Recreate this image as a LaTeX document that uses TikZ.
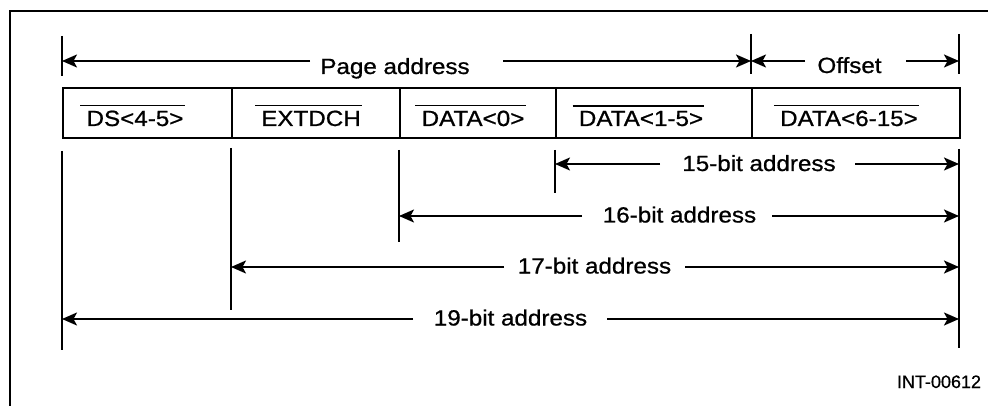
\documentclass[tikz,border=0pt]{standalone}
\usepackage{fontspec}
\setmainfont{Liberation Sans}[FakeStretch=1.1,FakeBold=0.8]
\newfontfamily\intfont{Liberation Sans}[FakeBold=0.6]
\usetikzlibrary{arrows.meta}
\tikzset{
  ln/.style={line width=2pt, line cap=butt},
  arr/.style={ln, -{Stealth[length=15pt,width=13pt,inset=3.5pt]}},
  cell/.style={draw, line width=2pt, minimum height=50pt, inner sep=0pt, anchor=north west},
  lbl/.style={anchor=base, inner sep=0pt, font=\fontsize{22}{26}\selectfont},
  sig/.style={lbl},
  bar/.style={line width=1.8pt},
}
\begin{document}
\begin{tikzpicture}[x=1pt,y=-1pt]
\clip (0,0) rectangle (988,406);
\fill[white] (0,0) rectangle (988,406);
% frame
\draw[line width=2pt] (10,420) -- (10,11) -- (1000,11);

% tick coordinates
\coordinate (tA1) at (62,36);  \coordinate (tA2) at (62,76);
\coordinate (tB1) at (751,34); \coordinate (tB2) at (751,74);
\coordinate (tC1) at (959,34); \coordinate (tC2) at (959,74);
\draw[ln] (tA1) -- (tA2);
\draw[ln] (tB1) -- (tB2);
\draw[ln] (tC1) -- (tC2);

% table cells
\node[cell, minimum width=169pt] (c1) at (62,87) {};
\node[cell, minimum width=168pt] (c2) at (231,87) {};
\node[cell, minimum width=156pt] (c3) at (399,87) {};
\node[cell, minimum width=196pt] (c4) at (555,87) {};
\node[cell, minimum width=208pt] (c5) at (751,87) {};

% signal names with overbars
\node[sig] (s1) at (135,126) {DS<4-5>};
\node[sig] (s2) at (311,126) {EXTDCH};
\node[sig] (s3) at (473,126) {DATA<0>};
\node[sig] (s4) at (641,126) {DATA<1-5>};
\node[sig] (s5) at (849,126) {DATA<6-15>};
\foreach \n in {s1,s2,s3,s4,s5}{
  \draw[bar] ([shift={(-6pt,5pt)}]\n.north west) -- ([shift={(1pt,5pt)}]\n.north east);
}

% vertical extension lines
\coordinate (v1a) at (62,151);  \coordinate (v1b) at (62,350);
\coordinate (v2a) at (231,148); \coordinate (v2b) at (231,310);
\coordinate (v3a) at (399,150); \coordinate (v3b) at (399,242);
\coordinate (v4a) at (555,150); \coordinate (v4b) at (555,193);
\coordinate (v5a) at (959,149); \coordinate (v5b) at (959,348);
\draw[ln] (v1a) -- (v1b);
\draw[ln] (v2a) -- (v2b);
\draw[ln] (v3a) -- (v3b);
\draw[ln] (v4a) -- (v4b);
\draw[ln] (v5a) -- (v5b);

% top dimension: Page address
\node[lbl] (pa) at (395,74) {Page address};
\coordinate (paL) at (310,61); \coordinate (paR) at (503,61);
\draw[arr] (paL) -- (tA1 |- paL);
\draw[arr] (paR) -- (tB1 |- paR);

% Offset
\node[lbl] (of) at (849.5,73) {Offset};
\coordinate (ofL) at (805,61); \coordinate (ofR) at (906,61);
\draw[arr] (ofL) -- (tB1 |- ofL);
\draw[arr] (ofR) -- (tC1 |- ofR);

% 15-bit
\node[lbl] (a15) at (759,171) {15-bit address};
\coordinate (a15L) at (660,164); \coordinate (a15R) at (855,164);
\draw[arr] (a15L) -- (v4a |- a15L);
\draw[arr] (a15R) -- (v5a |- a15R);

% 16-bit
\node[lbl] (a16) at (679.5,222.5) {16-bit address};
\coordinate (a16L) at (582,216); \coordinate (a16R) at (772,216);
\draw[arr] (a16L) -- (v3a |- a16L);
\draw[arr] (a16R) -- (v5a |- a16R);

% 17-bit
\node[lbl] (a17) at (594.5,273.5) {17-bit address};
\coordinate (a17L) at (504,267); \coordinate (a17R) at (685,267);
\draw[arr] (a17L) -- (v2a |- a17L);
\draw[arr] (a17R) -- (v5a |- a17R);

% 19-bit
\node[lbl] (a19) at (510.5,325.5) {19-bit address};
\coordinate (a19L) at (413,319); \coordinate (a19R) at (607,319);
\draw[arr] (a19L) -- (v1a |- a19L);
\draw[arr] (a19R) -- (v5a |- a19R);

% figure id
\node[anchor=base, inner sep=0pt, font=\intfont\fontsize{18}{22}\selectfont] (id) at (939,388) {INT-00612};
\end{tikzpicture}
\end{document}
